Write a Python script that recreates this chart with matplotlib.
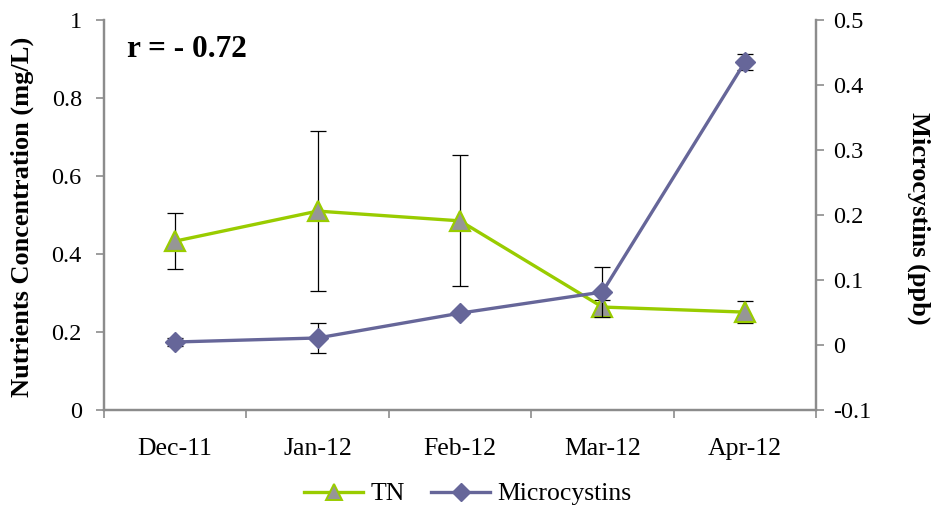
import matplotlib
matplotlib.use("Agg")
import matplotlib.pyplot as plt
from matplotlib.lines import Line2D
import numpy as np

months = ["Dec-11", "Jan-12", "Feb-12", "Mar-12", "Apr-12"]
tn = [0.433, 0.510, 0.485, 0.264, 0.251]
tn_err = [0.072, 0.205, 0.168, 0.018, 0.028]
microcystins = [0.0046, 0.0108, 0.049, 0.0815, 0.435]
microcystins_err = [0.006, 0.023, 0.003, 0.038, 0.012]
left_ticks = [0, 0.2, 0.4, 0.6, 0.8, 1]
left_tick_labels = ["0", "0.2", "0.4", "0.6", "0.8", "1"]
right_ticks = [-0.1, 0, 0.1, 0.2, 0.3, 0.4, 0.5]
right_tick_labels = ["-0.1", "0", "0.1", "0.2", "0.3", "0.4", "0.5"]

green = "#99CC00"
gray_fill = "#969696"
purple = "#666699"
axis_gray = "#8C8C8C"

plt.rcParams["font.family"] = ["Liberation Serif", "DejaVu Serif"]

W, H = 934, 508
fig = plt.figure(figsize=(W / 100, H / 100), dpi=100)
ax = fig.add_axes([104 / W, 1 - 410 / H, 712 / W, 390 / H])
ax2 = ax.twinx()

x = np.arange(len(months))

# TN on the primary axis
ax.errorbar(x, tn, yerr=tn_err, fmt="none", ecolor="black", elinewidth=0.9,
            capsize=5.5, capthick=0.9, zorder=2)
ax.plot(x, tn, color=green, lw=2.4, marker="^", markersize=14,
        markerfacecolor=gray_fill, markeredgecolor=green, markeredgewidth=1.6,
        zorder=3)

# Microcystins on the secondary axis
ax2.errorbar(x, microcystins, yerr=microcystins_err, fmt="none", ecolor="black",
             elinewidth=0.9, capsize=5.5, capthick=0.9, zorder=2)
ax2.plot(x, microcystins, color=purple, lw=2.4, marker="D", markersize=10.5,
         markerfacecolor=purple, markeredgecolor=purple, zorder=3)

ax.set_xlim(-0.5, len(months) - 0.5)
ax.set_ylim(0, 1)
ax2.set_ylim(-0.1, 0.5)

tick_fs = 17.5
ax.set_xticks(x)
ax.set_xticklabels(months, fontsize=18.5)
ax.set_xticks(np.arange(-0.5, len(months) + 0.5, 1), minor=True)
ax.tick_params(axis="x", which="major", length=0, pad=20)
ax.tick_params(axis="x", which="minor", length=6, color=axis_gray, width=1.2)

ax.set_yticks(left_ticks)
ax.set_yticklabels(left_tick_labels, fontsize=tick_fs)
ax.tick_params(axis="y", length=6, color=axis_gray, width=1.2, pad=10)
ax2.set_yticks(right_ticks)
ax2.set_yticklabels(right_tick_labels, fontsize=tick_fs)
ax2.tick_params(axis="y", length=6, color=axis_gray, width=1.2, pad=6)

for a in (ax, ax2):
    a.spines["top"].set_visible(False)
    for side in ("left", "right", "bottom"):
        a.spines[side].set_color(axis_gray)
        a.spines[side].set_linewidth(1.6)

fig.text(22 / W, 1 - 217 / H, "Nutrients Concentration (mg/L)", fontsize=19,
         fontweight="bold", rotation=90, ha="center", va="center")
fig.text(919 / W, 1 - 218 / H, "Microcystins (ppb)", fontsize=19,
         fontweight="bold", rotation=-90, ha="center", va="center")

ax.text(0.032, 0.925, "r = - 0.72", transform=ax.transAxes, fontsize=22.5,
        fontweight="bold", va="center", ha="left")

handles = [
    Line2D([], [], color=green, lw=2.4, marker="^", markersize=12,
           markerfacecolor=gray_fill, markeredgecolor=green, markeredgewidth=1.4),
    Line2D([], [], color=purple, lw=2.4, marker="D", markersize=9,
           markerfacecolor=purple, markeredgecolor=purple),
]
fig.legend(handles, ["TN", "Microcystins"], loc="center",
           bbox_to_anchor=(468 / W, 1 - 494 / H), ncol=2, frameon=False,
           fontsize=18.5, handlelength=2.3, columnspacing=1.0, handletextpad=0.3)

fig.savefig("out.png", dpi=100)
